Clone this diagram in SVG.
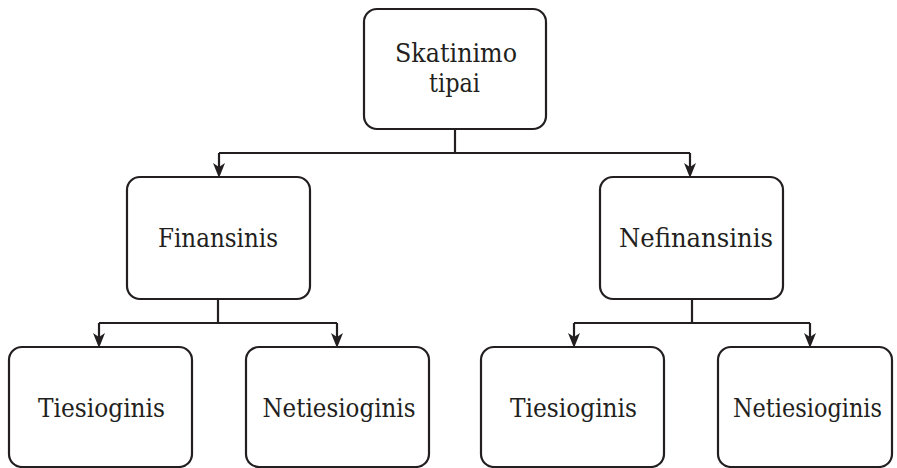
<svg xmlns="http://www.w3.org/2000/svg" width="897" height="468" viewBox="0 0 897 468">
  <style>
    .box { fill: #ffffff; stroke: #231f20; stroke-width: 2.2; }
    .lbl { font-family: "DejaVu Serif", serif; font-size: 26px; fill: #231f20; text-anchor: middle; }
    .wire { fill: none; stroke: #231f20; stroke-width: 2.2; }
    .head { fill: #231f20; stroke: none; }
  </style>

  <g id="connectors">
    <path class="wire" d="M455,129 V153"/>
    <path class="wire" d="M219,153 H690"/>
    <path class="wire" d="M219,153 V168"/>
    <path class="wire" d="M690,153 V168"/>
    <path class="head" d="M219,178 L213,163 L219,167 L225,163 Z"/>
    <path class="head" d="M690,178 L684,163 L690,167 L696,163 Z"/>

    <path class="wire" d="M218,299 V323"/>
    <path class="wire" d="M99,323 H337"/>
    <path class="wire" d="M99,323 V338"/>
    <path class="wire" d="M337,323 V338"/>
    <path class="head" d="M99,348 L93,333 L99,337 L105,333 Z"/>
    <path class="head" d="M337,348 L331,333 L337,337 L343,333 Z"/>

    <path class="wire" d="M692,299 V323"/>
    <path class="wire" d="M574,323 H810"/>
    <path class="wire" d="M574,323 V338"/>
    <path class="wire" d="M810,323 V338"/>
    <path class="head" d="M574,348 L568,333 L574,337 L580,333 Z"/>
    <path class="head" d="M810,348 L804,333 L810,337 L816,333 Z"/>
  </g>

  <g id="node-root">
    <rect class="box" x="364" y="9" width="182" height="120" rx="13"/>
    <text class="lbl" x="456" y="62" textLength="122" lengthAdjust="spacingAndGlyphs">Skatinimo</text>
    <text class="lbl" x="454.5" y="92" textLength="51" lengthAdjust="spacingAndGlyphs">tipai</text>
  </g>

  <g id="node-finansinis">
    <rect class="box" x="127" y="177" width="183" height="122" rx="13"/>
    <text class="lbl" x="218" y="247" textLength="120" lengthAdjust="spacingAndGlyphs">Finansinis</text>
  </g>

  <g id="node-nefinansinis">
    <rect class="box" x="600" y="177" width="183" height="122" rx="13"/>
    <text class="lbl" x="696" y="247" textLength="154" lengthAdjust="spacingAndGlyphs">Nefinansinis</text>
  </g>

  <g id="node-fin-tiesioginis">
    <rect class="box" x="9" y="347" width="183" height="120" rx="13"/>
    <text class="lbl" x="101.5" y="417" textLength="127" lengthAdjust="spacingAndGlyphs">Tiesioginis</text>
  </g>

  <g id="node-fin-netiesioginis">
    <rect class="box" x="246" y="347" width="183" height="120" rx="13"/>
    <text class="lbl" x="339" y="417" textLength="153" lengthAdjust="spacingAndGlyphs">Netiesioginis</text>
  </g>

  <g id="node-nefin-tiesioginis">
    <rect class="box" x="481" y="347" width="183" height="120" rx="13"/>
    <text class="lbl" x="573.5" y="417" textLength="127" lengthAdjust="spacingAndGlyphs">Tiesioginis</text>
  </g>

  <g id="node-nefin-netiesioginis">
    <rect class="box" x="718" y="347" width="174" height="120" rx="13"/>
    <text class="lbl" x="807.5" y="417" textLength="149" lengthAdjust="spacingAndGlyphs">Netiesioginis</text>
  </g>
</svg>
